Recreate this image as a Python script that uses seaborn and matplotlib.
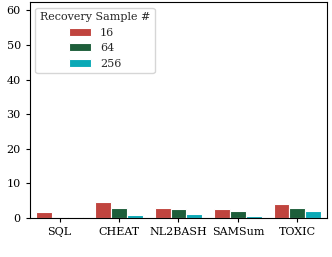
import matplotlib
matplotlib.use("Agg")
import matplotlib.pyplot as plt
import seaborn as sns
import pandas as pd

tasks = ["SQL", "CHEAT", "NL2BASH", "SAMSum", "TOXIC"]
samples = ["16", "64", "256"]
vals_16 = [1.7, 4.5, 2.9, 2.5, 3.9]
vals_64 = [0.3, 2.8, 2.6, 2.0, 2.9]
vals_256 = [0.3, 0.9, 1.2, 0.6, 2.0]
colors = ["#c0443e", "#1d5e3a", "#0aa9b6"]

rows = []
for s, vals in zip(samples, [vals_16, vals_64, vals_256]):
    for t, v in zip(tasks, vals):
        rows.append({"task": t, "samples": s, "value": v})
df = pd.DataFrame(rows)

sns.set_style("ticks")
plt.rcParams["font.family"] = ["DejaVu Serif"]

fig = plt.figure(figsize=(3.32, 2.57), dpi=100)
ax = fig.add_axes([0.09, 0.152, 0.895, 0.84])
sns.barplot(data=df, x="task", y="value", hue="samples", hue_order=samples,
            palette=colors, saturation=1, edgecolor="white", linewidth=0.8, ax=ax)
ax.set_ylim(0, 62.4)
ax.set_yticks([0, 10, 20, 30, 40, 50, 60])
ax.set_xlabel("")
ax.set_ylabel("")
ax.tick_params(labelsize=8, length=3, colors="black")
for sp in ax.spines.values():
    sp.set_color("black")
leg = ax.legend(title="Recovery Sample #", loc="upper left", fontsize=8,
                title_fontsize=8, frameon=True)
fig.savefig("out.png", dpi=100)
